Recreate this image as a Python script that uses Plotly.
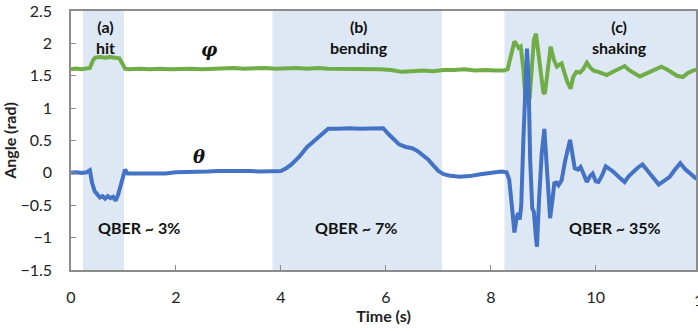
import plotly.graph_objects as go

# ---- data ----
phi_t = [0, 0.1, 0.2, 0.3, 0.36, 0.42, 0.46, 0.55, 0.65, 0.75, 0.85, 0.92, 0.97, 1.03, 1.1,
         1.3, 1.5, 1.7, 1.9, 2.1, 2.3, 2.5, 2.7, 2.9, 3.1, 3.3, 3.5, 3.7, 3.9, 4.1, 4.3, 4.5,
         4.7, 4.9, 5.1, 5.3, 5.5, 5.7, 5.9, 6.1, 6.3, 6.5, 6.7, 6.9, 7.1, 7.3, 7.5, 7.7, 7.9,
         8.1, 8.25, 8.32, 8.38, 8.45, 8.5, 8.53, 8.57, 8.62, 8.66, 8.70, 8.74, 8.78, 8.82, 8.86,
         8.90, 8.95, 9.00, 9.03, 9.08, 9.14, 9.20, 9.26, 9.31, 9.35, 9.40, 9.46, 9.52, 9.57,
         9.63, 9.70, 9.76, 9.83, 9.90, 9.96, 10.05, 10.13, 10.21, 10.30, 10.40, 10.48, 10.55,
         10.63, 10.72, 10.84, 10.95, 11.05, 11.15, 11.25, 11.35, 11.45, 11.55, 11.66, 11.75,
         11.85, 11.95, 12.0]
phi_v = [1.60, 1.61, 1.60, 1.61, 1.62, 1.74, 1.78, 1.79, 1.78, 1.79, 1.78, 1.77, 1.70, 1.61, 1.60,
         1.61, 1.60, 1.61, 1.60, 1.61, 1.61, 1.60, 1.61, 1.61, 1.62, 1.61, 1.62, 1.62, 1.61, 1.62,
         1.62, 1.61, 1.62, 1.61, 1.61, 1.60, 1.61, 1.60, 1.60, 1.59, 1.56, 1.57, 1.58, 1.57, 1.59,
         1.59, 1.60, 1.58, 1.59, 1.58, 1.58, 1.60, 1.80, 2.03, 1.97, 1.93, 1.95, 1.60, 1.15, 1.10,
         1.15, 1.70, 2.05, 2.15, 1.90, 1.55, 1.25, 1.22, 1.60, 1.95, 1.75, 1.64, 1.67, 1.69, 1.55,
         1.40, 1.30, 1.48, 1.56, 1.55, 1.60, 1.70, 1.62, 1.58, 1.56, 1.53, 1.51, 1.55, 1.59, 1.62,
         1.65, 1.59, 1.55, 1.49, 1.53, 1.57, 1.61, 1.64, 1.60, 1.55, 1.50, 1.48, 1.54, 1.58, 1.60,
         1.60]

theta_t = [0, 0.1, 0.2, 0.3, 0.36, 0.40, 0.45, 0.5, 0.55, 0.6, 0.65, 0.7, 0.75, 0.8, 0.85, 0.9,
           0.95, 1.0, 1.03, 1.08, 1.2, 1.4, 1.6, 1.8, 2.0, 2.2, 2.4, 2.6, 2.8, 3.0, 3.2, 3.4, 3.6,
           3.8, 3.9, 4.0, 4.1, 4.2, 4.35, 4.5, 4.6, 4.75, 4.9, 5.1, 5.3, 5.5, 5.7, 5.9, 5.95, 6.05,
           6.15, 6.25, 6.38, 6.5, 6.6, 6.7, 6.8, 6.9, 7.0, 7.1, 7.2, 7.4, 7.6, 7.8, 8.0, 8.2, 8.3,
           8.35, 8.40, 8.45, 8.49, 8.52, 8.55, 8.58, 8.62, 8.66, 8.69, 8.72, 8.75, 8.79, 8.82, 8.86,
           8.88, 8.92, 8.97, 9.02, 9.06, 9.10, 9.13, 9.17, 9.21, 9.25, 9.29, 9.35, 9.42, 9.51, 9.56,
           9.60, 9.66, 9.71, 9.77, 9.83, 9.89, 9.94, 10.0, 10.05, 10.12, 10.19, 10.26, 10.33, 10.45,
           10.55, 10.63, 10.71, 10.80, 10.89, 11.0, 11.1, 11.2, 11.3, 11.41, 11.5, 11.61, 11.7,
           11.79, 11.9, 12.0]
theta_v = [0.00, 0.01, 0.00, 0.01, 0.04, -0.15, -0.28, -0.32, -0.38, -0.36, -0.40, -0.36, -0.39,
           -0.37, -0.43, -0.33, -0.20, -0.05, 0.05, -0.01, -0.01, -0.01, 0.00, -0.01, 0.01, 0.01,
           0.02, 0.02, 0.03, 0.03, 0.04, 0.03, 0.02, 0.03, 0.02, 0.03, 0.07, 0.13, 0.25, 0.40, 0.47,
           0.58, 0.68, 0.68, 0.69, 0.68, 0.69, 0.70, 0.69, 0.60, 0.52, 0.44, 0.40, 0.38, 0.34, 0.28,
           0.21, 0.12, 0.03, -0.02, -0.04, -0.06, -0.05, -0.02, 0.00, 0.02, 0.01, -0.10, -0.50,
           -0.92, -0.70, -0.62, -0.72, -0.50, 0.50, 1.60, 1.92, 1.40, 0.20, -0.55, -0.60, -1.00,
           -1.14, -0.40, 0.30, 0.68, 0.20, -0.40, -0.70, -0.45, -0.16, -0.15, -0.19, -0.11, 0.20,
           0.51, 0.25, 0.07, 0.05, 0.09, -0.02, -0.14, -0.05, -0.01, -0.13, -0.14, -0.04, 0.10,
           0.06, 0.02, -0.07, -0.14, -0.05, 0.02, 0.08, 0.13, 0.03, -0.08, -0.18, -0.12, -0.06,
           0.04, 0.15, 0.06, -0.01, -0.08, -0.10]

regions = [(0.23, 1.01), (3.84, 7.07), (8.26, 12.0)]
region_labels = ["(a)<br>hit", "(b)<br>bending", "(c)<br>shaking"]
region_label_x = [0.65, 5.49, 10.46]
qber_labels = ["QBER ~ 3%", "QBER ~ 7%", "QBER ~ 35%"]
qber_x = [1.29, 5.43, 10.36]
x_ticks = [0, 2, 4, 6, 8, 10]
x_cut_tick = 12
y_ticks = [-1.5, -1, -0.5, 0, 0.5, 1, 1.5, 2, 2.5]
x_max_visible = 11.91

GREEN = "#70ad47"
BLUE = "#4472c4"
SHADE = "#dde8f4"
AX = "#8c8c8c"
FONT = "Lato"

fig = go.Figure()
fig.add_trace(go.Scatter(x=phi_t, y=phi_v, mode="lines",
                         line=dict(color=GREEN, width=4), showlegend=False))
fig.add_trace(go.Scatter(x=theta_t, y=theta_v, mode="lines",
                         line=dict(color=BLUE, width=4), showlegend=False))

for x0, x1 in regions:
    fig.add_shape(type="rect", xref="x", yref="paper", x0=x0, x1=x1, y0=0, y1=1,
                  fillcolor=SHADE, line_width=0, layer="below")

for lbl, xx in zip(region_labels, region_label_x):
    fig.add_annotation(x=xx, y=2.1, text="<b>" + lbl + "</b>", showarrow=False,
                       font=dict(family=FONT, size=16, color="#111"), align="center")
for lbl, xx in zip(qber_labels, qber_x):
    fig.add_annotation(x=xx, y=-0.84, text="<b>" + lbl + "</b>", showarrow=False,
                       font=dict(family=FONT, size=16, color="#111"))

fig.add_annotation(x=2.64, y=1.90, text="<b><i>φ</i></b>", showarrow=False,
                   font=dict(family="DejaVu Serif", size=18, color="#111"))
fig.add_annotation(x=2.43, y=0.25, text="<b><i>θ</i></b>", showarrow=False,
                   font=dict(family="DejaVu Serif", size=18, color="#111"))

# the "12" tick label sits at the right edge, cut off as in the reference
fig.add_annotation(xref="paper", yref="paper", x=0.9936, y=0, xanchor="left",
                   yanchor="top", yshift=-18, text=str(x_cut_tick), showarrow=False,
                   font=dict(family=FONT, size=16, color="#222"))

fig.update_layout(
    width=698, height=331,
    margin=dict(l=71, r=0, t=11, b=61),
    paper_bgcolor="white", plot_bgcolor="white",
    font=dict(family=FONT, size=16, color="#222"),
    xaxis=dict(range=[0, x_max_visible], tickvals=x_ticks, showgrid=False, zeroline=False,
               showline=True, linecolor=AX, linewidth=1.5, mirror=True,
               ticks="inside", ticklen=5, tickcolor=AX, ticklabelstandoff=12,
               title=dict(text="<b>Time (s)</b>", font=dict(size=16), standoff=0)),
    yaxis=dict(range=[-1.5, 2.5], tickvals=y_ticks, showgrid=False, zeroline=False,
               showline=True, linecolor=AX, linewidth=1.5, mirror=True,
               ticks="inside", ticklen=5, tickcolor=AX, ticklabelstandoff=14,
               title=dict(text="<b>Angle (rad)</b>", font=dict(size=16), standoff=4)),
)

fig.write_html("out.html")
